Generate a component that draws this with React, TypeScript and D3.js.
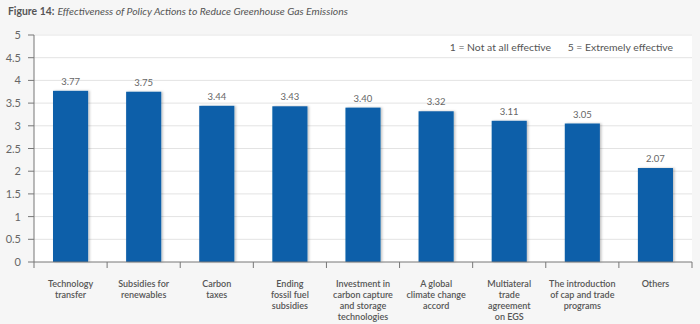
import React from "react";
import * as d3 from "d3";

const categories: string[][] = [
  ["Technology", "transfer"],
  ["Subsidies for", "renewables"],
  ["Carbon", "taxes"],
  ["Ending", "fossil fuel", "subsidies"],
  ["Investment in", "carbon capture", "and storage", "technologies"],
  ["A global", "climate change", "accord"],
  ["Multiateral", "trade", "agreement", "on EGS"],
  ["The introduction", "of cap and trade", "programs"],
  ["Others"],
];
const values: number[] = [3.77, 3.75, 3.44, 3.43, 3.4, 3.32, 3.11, 3.05, 2.07];
const yTicks: number[] = [0, 0.5, 1, 1.5, 2, 2.5, 3, 3.5, 4, 4.5, 5];
const titleBold = "Figure 14:";
const titleItalic = "Effectiveness of Policy Actions to Reduce Greenhouse Gas Emissions";
const legend1 = "1 = Not at all effective";
const legend2 = "5 = Extremely effective";

export default function App() {
  const W = 700, H = 324;
  const left = 34, right = 692, top = 35, bottom = 262;
  const font = "Lato, 'Open Sans', sans-serif";
  const x = d3.scaleBand<number>().domain(values.map((_, i) => i)).range([left, right]).paddingInner(0.52).paddingOuter(0.26);
  const y = d3.scaleLinear().domain([0, 5]).range([bottom, top]);
  const bw = x.bandwidth();
  const step = (right - left) / values.length;
  return (
    <svg width={W} height={H} style={{ position: "absolute", left: 0, top: 0, display: "block" }}>
      <defs>
        <filter id="sh" x="-20%" y="-5%" width="150%" height="110%">
          <feDropShadow dx="1.5" dy="0" stdDeviation="1" floodColor="#000" floodOpacity="0.25" />
        </filter>
      </defs>
      <rect x={0} y={0} width={W} height={H} fill="#f6f6f6" />
      <rect x={left} y={y(5) - 1} width={right - left} height={bottom - y(5) + 1} fill="#ffffff" />
      <text x={8} y={15} fontFamily={font} fontSize={10.4} fill="#555">
        <tspan fontWeight="bold">{titleBold}</tspan>
        <tspan fontStyle="italic" dx={3}>{titleItalic}</tspan>
      </text>
      {yTicks.map((t) => (
        <g key={t}>
          {t > 0 && <line x1={left} x2={right} y1={y(t)} y2={y(t)} stroke="#e3e3e3" strokeWidth={1} />}
          <line x1={left - 6} x2={left} y1={y(t)} y2={y(t)} stroke="#777" strokeWidth={1} />
          <text x={21} y={y(t) + 4} textAnchor="end" fontFamily={font} fontSize={11} fill="#666">{t}</text>
        </g>
      ))}
      <text x={551} y={51} textAnchor="end" fontFamily={font} fontSize={10.4} fill="#555">{legend1}</text>
      <text x={673} y={51} textAnchor="end" fontFamily={font} fontSize={10.4} fill="#555">{legend2}</text>
      {values.map((v, i) => (
        <g key={i}>
          <rect x={x(i)} y={y(v)} width={bw} height={bottom - y(v)} fill="#0a5fa9" filter="url(#sh)" />
          <text x={(x(i) as number) + bw / 2} y={y(v) - 6} textAnchor="middle" fontFamily={font} fontSize={9.5} fill="#666">{v.toFixed(2)}</text>
          {categories[i].map((line, j) => (
            <text key={j} x={(x(i) as number) + bw / 2} y={287 + j * 11} textAnchor="middle" fontFamily={font} fontSize={9} fontWeight={600} fill="#555">{line}</text>
          ))}
        </g>
      ))}
      <line x1={left} x2={left} y1={y(5)} y2={bottom} stroke="#777" strokeWidth={1} />
      <line x1={left} x2={right} y1={bottom} y2={bottom} stroke="#777" strokeWidth={1} />
      {d3.range(values.length + 1).map((k) => (
        <line key={k} x1={left + k * step} x2={left + k * step} y1={bottom} y2={bottom + 6} stroke="#777" strokeWidth={1} />
      ))}
    </svg>
  );
}
